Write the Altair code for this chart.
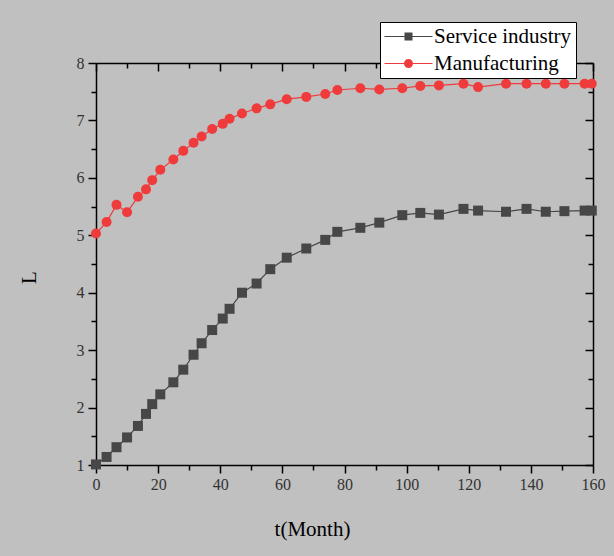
import altair as alt
import pandas as pd

# ---- data ----
t_month = [0, 3.4, 6.6, 10.0, 13.5, 16.1, 18.1, 20.7, 24.9, 28.1,
           31.4, 34.0, 37.4, 40.8, 43.0, 47.0, 51.7, 56.1, 61.4, 67.7,
           73.8, 77.7, 85.1, 91.2, 98.6, 104.4, 110.4, 118.3, 123.0, 132.0,
           138.6, 144.8, 150.8, 157.3, 159.6]
service = [1.01, 1.14, 1.31, 1.48, 1.68, 1.89, 2.06, 2.23, 2.44, 2.66,
           2.92, 3.12, 3.35, 3.55, 3.72, 4.00, 4.16, 4.41, 4.61, 4.77,
           4.92, 5.06, 5.13, 5.22, 5.35, 5.39, 5.36, 5.46, 5.43, 5.41,
           5.46, 5.41, 5.42, 5.43, 5.43]
manufacturing = [5.03, 5.23, 5.53, 5.40, 5.67, 5.80, 5.96, 6.14, 6.32, 6.47,
                 6.61, 6.72, 6.85, 6.94, 7.03, 7.12, 7.21, 7.28, 7.37, 7.41,
                 7.46, 7.53, 7.56, 7.54, 7.56, 7.60, 7.61, 7.64, 7.58, 7.64,
                 7.64, 7.64, 7.64, 7.64, 7.64]
series_names = ["Service industry", "Manufacturing"]
series_colors = ["#474747", "#ef3b3b"]
series_markers = ["square", "circle"]
x_major = [0, 20, 40, 60, 80, 100, 120, 140, 160]
x_minor = [10, 30, 50, 70, 90, 110, 130, 150]
y_major = [1, 2, 3, 4, 5, 6, 7, 8]
y_minor = [1.5, 2.5, 3.5, 4.5, 5.5, 6.5, 7.5]

df = pd.DataFrame({
    "t": t_month + t_month,
    "L": service + manufacturing,
    "series": [series_names[0]] * len(t_month) + [series_names[1]] * len(t_month),
})

W, H = 497, 402
FONT = "Liberation Serif"
xs = alt.Scale(domain=[0, 160], nice=False, zero=False)
ys = alt.Scale(domain=[1, 8], nice=False, zero=False)
col = alt.Scale(domain=series_names, range=series_colors)

tickstyle = dict(grid=False, tickColor="black", tickWidth=1.5, domainColor="black",
                 domainWidth=1.5, labelFont=FONT, labelFontSize=16, labelColor="#333333",
                 labelFlush=False, labelOverlap=False)
titlestyle = dict(titleFont=FONT, titleFontSize=21, titleFontWeight="normal", titleColor="black")

x_bottom = alt.Axis(orient="bottom", values=x_major, tickSize=8, labelPadding=3,
                    title="t(Month)", titleX=216, titleY=64, titleAlign="center",
                    titleBaseline="middle", **tickstyle, **titlestyle)
y_left = alt.Axis(orient="left", values=y_major, tickSize=8, labelPadding=4,
                  title="L", titleAngle=270, titleX=-67, titleY=214,
                  titleAlign="center", titleBaseline="middle", **tickstyle, **titlestyle)
x_bottom_minor = alt.Axis(orient="bottom", values=x_minor, tickSize=5, labels=False,
                          domain=False, title=None, **tickstyle)
y_left_minor = alt.Axis(orient="left", values=y_minor, tickSize=5, labels=False,
                        domain=False, title=None, **tickstyle)
# mirrored axes with inward ticks: bottom/left axes shifted onto the top/right edges
x_top = alt.Axis(orient="bottom", offset=-H, values=x_major, tickSize=8, labels=False,
                 title=None, **tickstyle)
y_right = alt.Axis(orient="left", offset=-W, values=y_major, tickSize=8, labels=False,
                   title=None, **tickstyle)
x_top_minor = alt.Axis(orient="bottom", offset=-H, values=x_minor, tickSize=5, labels=False,
                       domain=False, title=None, **tickstyle)
y_right_minor = alt.Axis(orient="left", offset=-W, values=y_minor, tickSize=5, labels=False,
                         domain=False, title=None, **tickstyle)

base = alt.Chart(df)

data_layers = []
for i, (name, color, marker) in enumerate(zip(series_names, series_colors, series_markers)):
    sub = base.transform_filter(alt.datum.series == name)
    data_layers.append(sub.mark_line(strokeWidth=1.2, color=color).encode(
        x=alt.X("t:Q", scale=xs, axis=x_bottom if i == 0 else None),
        y=alt.Y("L:Q", scale=ys, axis=y_left if i == 0 else None),
    ))
    data_layers.append(sub.mark_point(filled=True, size=100, opacity=1, shape=marker, color=color).encode(
        x=alt.X("t:Q", scale=xs, axis=None),
        y=alt.Y("L:Q", scale=ys, axis=None),
    ))

minor = base.transform_filter("false").mark_point().encode(
    x=alt.X("t:Q", scale=xs, axis=x_bottom_minor),
    y=alt.Y("L:Q", scale=ys, axis=y_left_minor),
)

# legend symbols: a short line (thin filled bar) with the marker on it
path_sq = "M-1,-0.06H3.8V0.06H-1ZM1.0,-0.4H1.8V0.4H1.0Z"
path_ci = "M-1,-0.06H3.8V0.06H-1ZM1.85,0A0.45,0.45,0,1,1,0.95,0A0.45,0.45,0,1,1,1.85,0Z"
leg = alt.Legend(orient="none", legendX=284, legendY=-41, title=None, fillColor="white",
                 strokeColor="black", padding=4, labelFont=FONT, labelFontSize=21,
                 labelColor="black", labelLimit=400, symbolSize=400,
                 rowPadding=5, labelOffset=29, symbolOpacity=1, symbolStrokeWidth=0,
                 symbolFillColor="#2255ff")

legend_layer = base.transform_filter("false").mark_point(filled=True, opacity=1).encode(
    x=alt.X("t:Q", scale=xs, axis=x_top),
    y=alt.Y("L:Q", scale=ys, axis=y_right),
    color=alt.Color("series:N", scale=col, legend=leg),
    shape=alt.Shape("series:N", scale=alt.Scale(domain=series_names, range=[path_sq, path_ci]),
                    legend=leg),
)

minor_top = base.transform_filter("false").mark_point().encode(
    x=alt.X("t:Q", scale=xs, axis=x_top_minor),
    y=alt.Y("L:Q", scale=ys, axis=y_right_minor),
)

chart = alt.layer(*data_layers, minor, legend_layer, minor_top).resolve_axis(
    x="independent", y="independent"
).properties(
    width=W, height=H,
    background="#c0c0c0",
    padding={"left": 96, "top": 63, "right": 21, "bottom": 91},
    autosize=alt.AutoSizeParams(type="none"),
).configure_view(stroke=None)

chart.save("out.html", embed_options={"renderer": "svg", "actions": False})
